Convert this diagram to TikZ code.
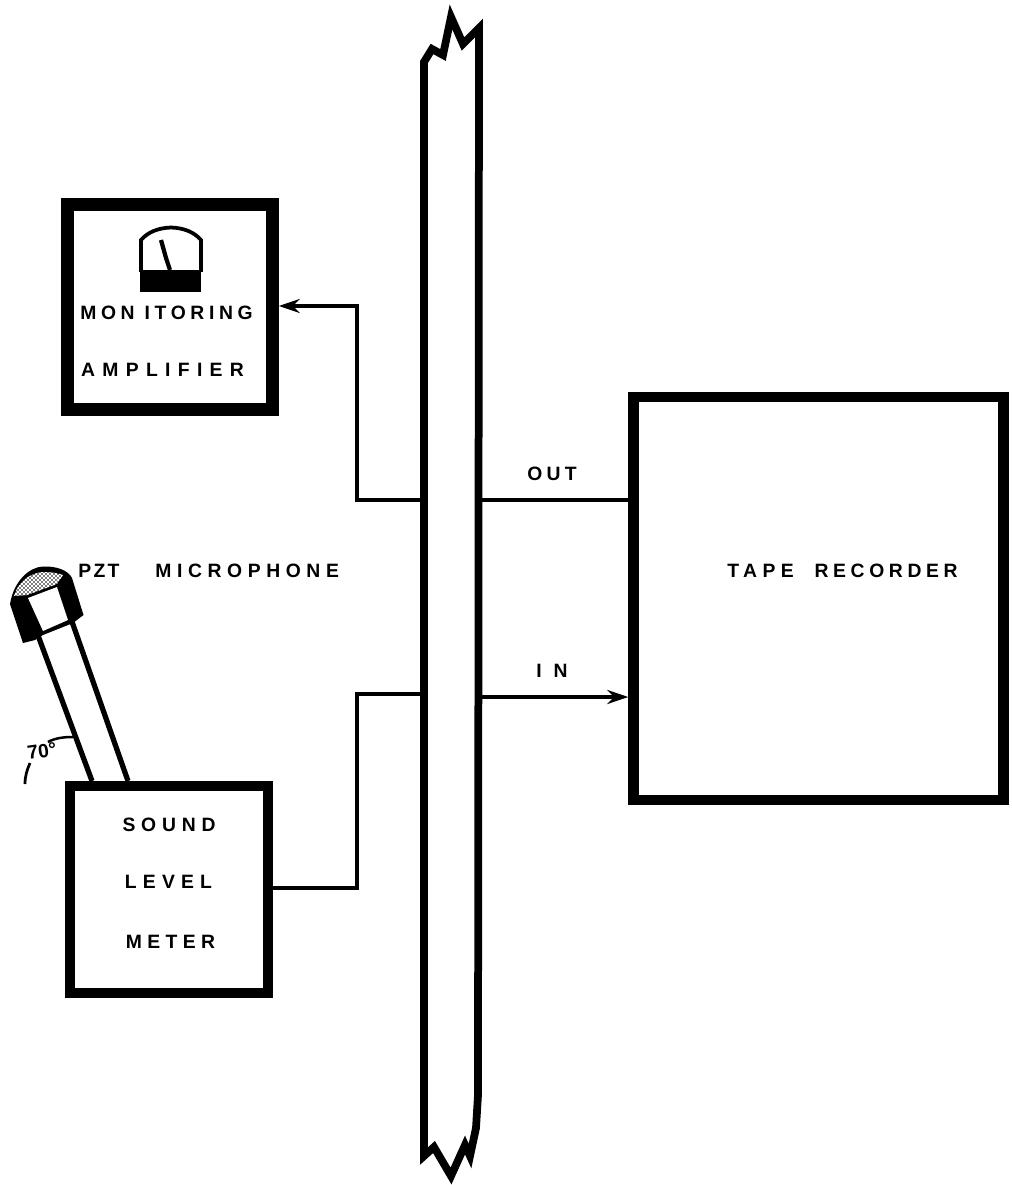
\documentclass[tikz,border=0pt]{standalone}
\usepackage{fontspec}
\setmainfont{Liberation Sans}
\usetikzlibrary{arrows.meta}
\newcommand{\spaced}[2]{{\bfseries\addfontfeatures{LetterSpace=#1}#2}}
\tikzset{
  blockbox/.style={draw=black,fill=white,inner sep=0pt,line join=miter},
  wire/.style={draw=black,line width=0.7mm,line join=miter},
  arrowwire/.style={wire,-{Stealth[length=4.2mm,width=2.8mm]}},
  buswall/.style={draw=black,line width=1.55mm,line join=miter,line cap=round},
  tube/.style={draw=black,line width=1.05mm},
  tag/.style={text=black,inner sep=0pt,font=\fontsize{11}{13}\selectfont},
}
\begin{document}
\begin{tikzpicture}[x=0.02cm,y=-0.02cm]
\useasboundingbox (0,0) rectangle (1011,1185);
% bus
\draw[buswall] (424,1150) -- (424,62) -- (432,49) -- (443,55) -- (451,17) -- (463,44) -- (479,28) -- (478,1095) -- (476,1128) -- (470,1156) -- (465,1145) -- (451,1176) -- (434,1147) -- (424,1156) -- cycle;
% boxes
\node[blockbox,line width=2.5mm,minimum width=4.1cm,minimum height=4.1cm] (mon) at (170,307) {};
\node[blockbox,line width=2.1mm,minimum width=7.4cm,minimum height=8.06cm] (rec) at (818.5,598.5) {};
\node[blockbox,line width=2.1mm,minimum width=3.96cm,minimum height=4.14cm] (slm) at (169,889.5) {};
% bus junctions
\coordinate (busOutL) at (421,500);
\coordinate (busOutR) at (481,500);
\coordinate (busInL) at (421,694);
\coordinate (busInR) at (481,697);
\coordinate (turnA) at (357,306);
\coordinate (turnB) at (357,888);
% connectors
\draw[arrowwire] (busOutL) -| (turnA) -- (mon.east |- turnA);
\draw[wire] (busOutR) -- (rec.west |- busOutR);
\draw[arrowwire] (busInR) -- (rec.west |- busInR);
\draw[wire] (slm.east |- turnB) -- (turnB) |- (busInL);
% meter
\fill[black] (140,270) rectangle (201,292);
\draw[line width=0.75mm] (141,272) -- (141,240) .. controls (148,232) and (158,228) .. (171,227.5) .. controls (184,228) and (194,232) .. (201,240) -- (201,272);
\draw[line width=0.85mm] (161,240) -- (166,258) -- (170,270);
% microphone tube
\draw[tube] (36,630) -- (92,781);
\draw[tube] (70,616) -- (128,781);
% microphone head
\fill[black] (10,604) .. controls (14,580) and (30,567) .. (43,566.5) .. controls (56,566) and (68,570) .. (72,578) -- (83.5,615) -- (73,623) -- (43,635) -- (35,640) -- (23,643) -- cycle;
\fill[white] (28,598) -- (57,587) -- (68,620) -- (43,631) -- cycle;
\begin{scope}
  \clip (14,596) .. controls (18,582) and (30,573) .. (43,572) .. controls (50,572) and (58,573) .. (63,575) -- (57,584) -- (27,595) -- cycle;
  \foreach \k in {0,4,...,96} {
    \draw[white,line width=0.22mm] (\k-10,600) -- (\k+30,560);
    \draw[white,line width=0.22mm] (\k-30,560) -- (\k+10,600);
  }
\end{scope}
% angle mark
\draw[line width=0.5mm] (73,737) .. controls (64,737) and (55,738) .. (48,742);
\draw[line width=0.55mm] (30,763) .. controls (27,770) and (25,776) .. (25,784);
\node[tag,font=\fontsize{11}{13}\selectfont,rotate=8] (ang) at (42,751) {\spaced{0}{70\textdegree}};
% labels
\node[tag] (t1) at (166.5,313) {\spaced{24}{MON ITORING}};
\node[tag] (t2) at (162.5,370) {\spaced{38}{AMPLIFIER}};
\node[tag] (t3) at (169,825) {\spaced{30}{SOUND}};
\node[tag] (t4) at (168.5,882) {\spaced{32}{LEVEL}};
\node[tag] (t5) at (170.5,942) {\spaced{28}{METER}};
\node[tag,anchor=west] (t6) at (78,571) {\spaced{12}{PZT}};
\node[tag,anchor=west] (t7) at (155,571) {\spaced{29}{MICROPHONE}};
\node[tag,anchor=west] (t8) at (727,571) {\spaced{28}{TAPE}};
\node[tag,anchor=east] (t9) at (958,571) {\spaced{24}{RECORDER}};
\node[tag] (t10) at (552,474) {\spaced{22}{OUT}};
\node[tag] (t11) at (552,671) {\spaced{34}{I N}};
\end{tikzpicture}
\end{document}
